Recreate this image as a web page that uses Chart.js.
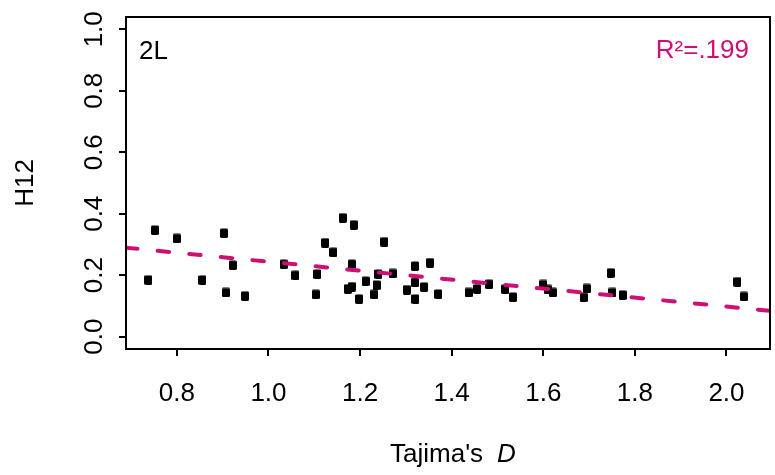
<!DOCTYPE html>
<html><head><meta charset="utf-8">
<script src="https://cdn.jsdelivr.net/npm/chart.js@4"></script>
<style>html,body{margin:0;padding:0;background:#fff;overflow:hidden}#wrap{width:775px;height:475px}</style>
</head><body><div id="wrap"><canvas id="c" width="775" height="475"></canvas></div>
<script>
// ---- data ----
const tajimaD = [0.752,0.800,0.903,0.922,0.738,0.856,0.907,0.949,1.162,1.186,1.124,1.142,1.253,1.033,1.182,1.059,1.107,1.212,1.240,1.271,1.236,1.182,1.173,1.103,1.231,1.198,1.320,1.353,1.320,1.302,1.340,1.321,1.371,1.437,1.456,1.482,1.517,1.534,1.600,1.610,1.621,1.695,1.688,1.747,1.751,1.773,2.024,2.038];
const h12 = [0.347,0.320,0.337,0.233,0.185,0.185,0.144,0.133,0.387,0.364,0.306,0.275,0.309,0.236,0.236,0.200,0.204,0.181,0.204,0.206,0.168,0.163,0.156,0.138,0.138,0.123,0.230,0.241,0.177,0.153,0.162,0.123,0.139,0.144,0.156,0.171,0.155,0.129,0.170,0.154,0.144,0.157,0.128,0.208,0.144,0.136,0.179,0.131];
const xTickValues = [0.8,1.0,1.2,1.4,1.6,1.8,2.0];
const yTickValues = [0.0,0.2,0.4,0.6,0.8,1.0];
const xLimits = [0.689, 2.095];
const yLimits = [-0.04, 1.04];
const fitIntercept = [0.390];
const fitSlope = [-0.146];
const panelLabel = '2L';
const r2Label = 'R\u00B2=.199';
const xTitleParts = ["Tajima's", 'D'];
const yTitle = 'H12';

const FONT = '"Liberation Sans", Arial, Helvetica, sans-serif';
const PINK = '#CD1076';
Chart.defaults.font.family = FONT;
Chart.defaults.font.size = 26;
Chart.defaults.color = '#000';

// square marker (R pch 15 look)
const ptImg = document.createElement('canvas');
ptImg.width = 8; ptImg.height = 10;
(function(){const g = ptImg.getContext('2d'); g.fillStyle = '#000'; g.beginPath(); g.roundRect(0,0.5,8,9.5,1.4); g.fill();})();

const decor = {
  id: 'decor',
  afterDraw(chart) {
    const {ctx, chartArea: a, scales: {x, y}} = chart;
    ctx.save();
    // box
    ctx.strokeStyle = '#000'; ctx.lineWidth = 2;
    ctx.strokeRect(a.left, a.top, a.right - a.left, a.bottom - a.top);
    // y tick labels (rotated like R)
    ctx.fillStyle = '#000';
    ctx.font = '26px ' + FONT;
    ctx.textAlign = 'center'; ctx.textBaseline = 'alphabetic';
    yTickValues.forEach(v => {
      const py = y.getPixelForValue(v);
      ctx.save(); ctx.translate(102, py); ctx.rotate(-Math.PI/2);
      ctx.fillText(v.toFixed(1), 0, 0); ctx.restore();
    });
    // y title
    ctx.save(); ctx.translate(33, (a.top + a.bottom)/2); ctx.rotate(-Math.PI/2);
    ctx.fillText(yTitle, 0, 0); ctx.restore();
    // x title with italic D
    ctx.textAlign = 'left';
    ctx.font = '26px ' + FONT;
    ctx.fillText(xTitleParts[0], 390, 462);
    ctx.font = 'italic 26px ' + FONT;
    ctx.fillText(xTitleParts[1], 497, 462);
    // panel label
    ctx.font = '26px ' + FONT;
    ctx.fillText(panelLabel, 139, 59);
    // R2
    ctx.fillStyle = PINK; ctx.textAlign = 'right';
    ctx.fillText(r2Label, 749, 58);
    ctx.restore();
  }
};

new Chart(document.getElementById('c'), {
  type: 'scatter',
  data: {
    datasets: [
      {
        data: tajimaD.map((v, i) => ({x: v, y: h12[i]})),
        pointStyle: ptImg, pointRadius: 4, pointHoverRadius: 4,
        backgroundColor: '#000', borderColor: '#000', order: 1
      },
      {
        data: xLimits.map(v => ({x: v, y: fitIntercept[0] + fitSlope[0] * v})),
        showLine: true, borderColor: PINK, borderWidth: 4,
        borderDash: [11.5, 20.25], borderCapStyle: 'round',
        pointRadius: 0, pointHoverRadius: 0, order: 0
      }
    ]
  },
  options: {
    responsive: false, animation: false, devicePixelRatio: 1,
    layout: {padding: {top: 17, right: 2, left: 0, bottom: 0}},
    plugins: {legend: {display: false}, tooltip: {enabled: false}},
    events: [],
    scales: {
      x: {
        type: 'linear', position: 'bottom', min: xLimits[0], max: xLimits[1],
        afterBuildTicks: s => { s.ticks = xTickValues.map(v => ({value: v})); },
        afterFit: s => { s.height = 126; },
        grid: {display: true, drawOnChartArea: false, drawTicks: true, tickLength: 7, color: '#000', lineWidth: 2},
        border: {display: false},
        ticks: {padding: 22, autoSkip: false, maxRotation: 0, color: '#000', font: {size: 26}, callback: v => Number(v).toFixed(1)}
      },
      y: {
        type: 'linear', position: 'left', min: yLimits[0], max: yLimits[1],
        afterBuildTicks: s => { s.ticks = yTickValues.map(v => ({value: v})); },
        afterFit: s => { s.width = 126; },
        grid: {display: true, drawOnChartArea: false, drawTicks: true, tickLength: 7, color: '#000', lineWidth: 2},
        border: {display: false},
        ticks: {display: false}
      }
    }
  },
  plugins: [decor]
});
</script></body></html>
